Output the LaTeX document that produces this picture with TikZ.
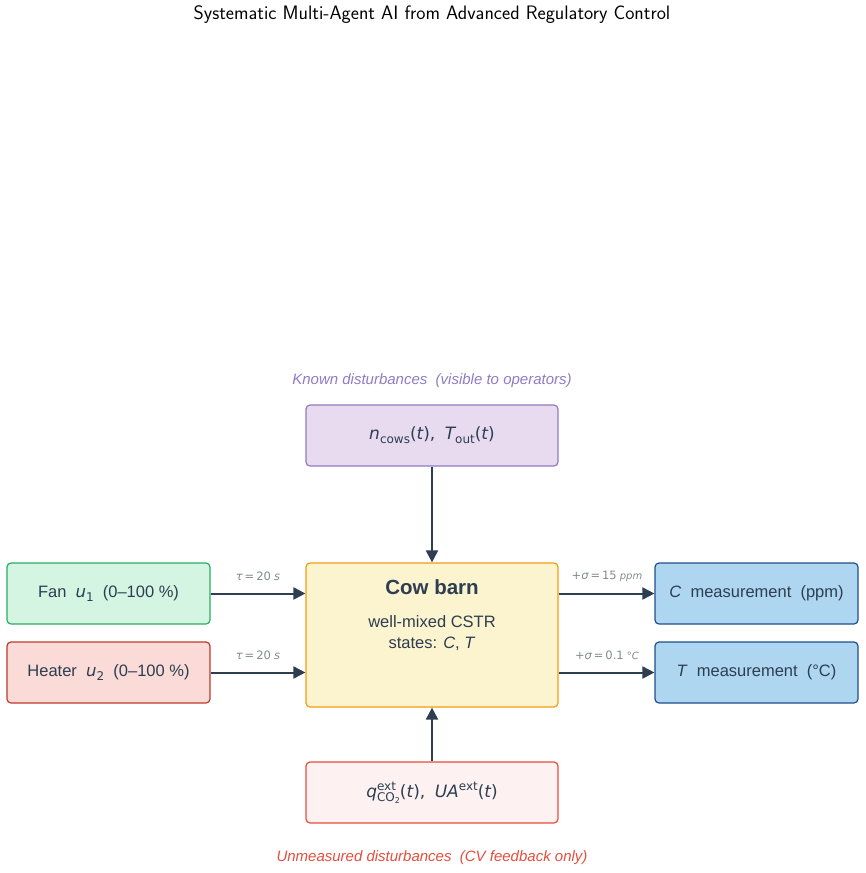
\documentclass[tikz,border=0pt]{standalone}
\usepackage{fontspec}
\setmainfont{Liberation Sans}
\newfontfamily\djv{DejaVu Sans}
\usetikzlibrary{arrows.meta}
\definecolor{ink}{HTML}{2C3E50}
\definecolor{gray1}{HTML}{7F8C8D}
\definecolor{purF}{HTML}{E8DAEF}
\definecolor{purD}{HTML}{8E7CC3}
\definecolor{yelF}{HTML}{FCF3CF}
\definecolor{yelD}{HTML}{F39C12}
\definecolor{grnF}{HTML}{D5F5E3}
\definecolor{grnD}{HTML}{27AE60}
\definecolor{redF}{HTML}{FADBD8}
\definecolor{redD}{HTML}{C0392B}
\definecolor{bluF}{HTML}{AED6F1}
\definecolor{bluD}{HTML}{1F4E8C}
\definecolor{pnkF}{HTML}{FDF2F1}
\definecolor{pnkD}{HTML}{E74C3C}
\newcommand{\mi}[1]{{\djv\itshape #1}}
\newcommand{\mr}[1]{{\djv #1}}
\newcommand{\sub}[1]{\raisebox{-0.45ex}{\fontsize{12}{12}\selectfont #1}}
\newcommand{\sups}[1]{\raisebox{0.75ex}{\fontsize{12}{12}\selectfont #1}}
\begin{document}
\begin{tikzpicture}[x=1pt,y=-1pt,
  box/.style={draw, rounded corners=4pt, line width=1.2pt, minimum width=252pt, minimum height=61pt, inner sep=0pt, text=ink, font=\fontsize{17}{20}\selectfont},
  sidebox/.style={box, minimum width=203pt, font=\fontsize{16.5}{20}\selectfont},
  arr/.style={draw=ink, line width=2pt, -{Triangle[length=12pt,width=12pt]}},
  small/.style={text=gray1, font=\fontsize{11.5}{13}\selectfont, inner sep=0pt},
  caplbl/.style={font=\fontsize{15}{18}\selectfont\itshape, inner sep=0pt}]
\useasboundingbox (0,0) rectangle (865,873);
\node[inner sep=0pt, font=\fontsize{19.5}{23}\selectfont\sffamily] (title) at (432,14.5) {Systematic Multi-Agent AI from Advanced Regulatory Control};

\node[caplbl, text=purD] (kcap) at (432,381) {Known disturbances\ \ (visible to operators)};
\node[box, fill=purF, draw=purD] (known) at (432,435.5) {\mi{n}\sub{\mr{cows}}\mr{(}\mi{t}\mr{),}\ \ \mi{T}\sub{\mr{out}}\mr{(}\mi{t}\mr{)}};

\node[box, fill=yelF, draw=yelD, minimum height=144pt] (barn) at (432,635) {};
\node[inner sep=0pt, text=ink, font=\fontsize{20.5}{24}\selectfont\bfseries] (barnT) at (432,587.5) {Cow barn};
\node[inner sep=0pt, text=ink, font=\fontsize{16.5}{19}\selectfont] (barn1) at (432,621.5) {well-mixed CSTR};
\node[inner sep=0pt, text=ink, font=\fontsize{16.5}{19}\selectfont] (barn2) at (432,643.5) {states: \textit{C}, \textit{T}};

\node[sidebox, fill=grnF, draw=grnD] (fan) at (108.5,593.5) {\raisebox{-1.5pt}{Fan\ \ \mi{u}\sub{\mr{1}}\ \ (0–100 \%)}};
\node[sidebox, fill=redF, draw=redD] (heat) at (108.5,672.5) {\raisebox{-1.5pt}{Heater\ \ \mi{u}\sub{\mr{2}}\ \ (0–100 \%)}};
\node[sidebox, fill=bluF, draw=bluD] (cm) at (756.5,593.5) {\raisebox{-1.5pt}{\textit{C}\ \ measurement\ \ (ppm)}};
\node[sidebox, fill=bluF, draw=bluD] (tm) at (756.5,672.5) {\raisebox{-1.5pt}{\textit{T}\ \ measurement\ \ (°C)}};

\node[box, fill=pnkF, draw=pnkD] (unk) at (432,792.5) {\mi{q}\rlap{\sups{\mr{ext}}}\sub{\mr{CO}\raisebox{-0.3ex}{\fontsize{8}{8}\selectfont\djv 2}}\mr{(}\mi{t}\mr{),}\ \ \mi{UA}\sups{\mr{ext}}\mr{(}\mi{t}\mr{)}};
\node[caplbl, text=pnkD] (ucap) at (432,858) {Unmeasured disturbances\ \ (CV feedback only)};

\draw[arr] (known) -- (barn);
\draw[arr] (unk) -- (barn);
\draw[arr] (fan.east) -- (fan.east -| barn.west);
\draw[arr] (heat.east) -- (heat.east -| barn.west);
\draw[arr] (cm.west -| barn.east) -- (cm.west);
\draw[arr] (tm.west -| barn.east) -- (tm.west);

\node[small] (l1) at (258,576) {\mi{τ}\,\mr{=}\,\mr{20}\ \mi{s}};
\node[small] (l2) at (258,655) {\mi{τ}\,\mr{=}\,\mr{20}\ \mi{s}};
\node[small] (l3) at (607,576) {\mr{+}\mi{σ}\,\mr{=}\,\mr{15}\ {\fontsize{10}{12}\selectfont\mi{ppm}}};
\node[small] (l4) at (607,655) {\mr{+}\mi{σ}\,\mr{=}\,\mr{0.1}\ {\fontsize{10}{12}\selectfont\mi{°C}}};
\end{tikzpicture}
\end{document}
